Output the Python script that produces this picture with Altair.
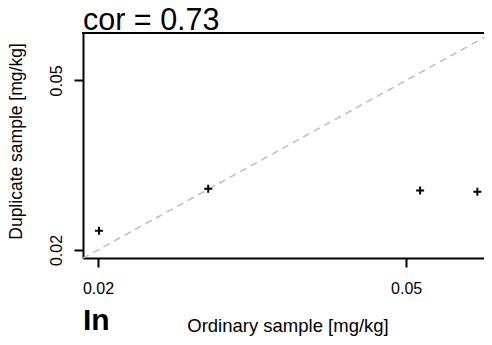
import altair as alt
import pandas as pd

# Data (log-log scatter)
ordinary = [0.02006, 0.02776, 0.05213, 0.0618]
duplicate = [0.0222, 0.02784, 0.02758, 0.0274]
x_range = [0.01913, 0.06303]
y_range = [0.01915, 0.0646]
diag_values = [0.0191, 0.0700]
tick_values = [0.02, 0.05]
title_text = "cor = 0.73"
element_label = "In"

pts = pd.DataFrame({"ordinary": ordinary, "duplicate": duplicate})
diag = pd.DataFrame({"ordinary": diag_values, "duplicate": diag_values})
lab = pd.DataFrame({"label": [element_label]})
ttl = pd.DataFrame({"label": [title_text]})

FONT = "Liberation Sans"
W, H = 401, 225

xscale = alt.Scale(type="log", domain=x_range, nice=False, zero=False)
yscale = alt.Scale(type="log", domain=y_range, nice=False, zero=False)

xaxis = alt.Axis(
    values=tick_values, format=".2f", title="Ordinary sample [mg/kg]",
    grid=False, domainColor="black", domainWidth=2, tickColor="black",
    tickWidth=2, tickSize=9, labelFont=FONT, labelFontSize=16, labelColor="black",
    labelBaseline="alphabetic", labelPadding=26, labelFlush=False,
    titleFont=FONT, titleFontSize=18.5, titleFontWeight="normal", titleColor="black",
    titleBaseline="alphabetic", titleAlign="center", titleX=(492 - 83) / 2, titleY=73,
)
yaxis = alt.Axis(
    values=tick_values, format=".2f", title="Duplicate sample [mg/kg]",
    grid=False, domainColor="black", domainWidth=2, tickColor="black",
    tickWidth=2, tickSize=9, labelFont=FONT, labelFontSize=16, labelColor="black",
    labelAngle=270, labelAlign="center", labelBaseline="alphabetic",
    labelPadding=13, labelFlush=False,
    titleFont=FONT, titleFontSize=17.5, titleFontWeight="normal", titleColor="black",
    titleAngle=270, titleBaseline="alphabetic", titleAlign="center",
    titleX=-61.5, titleY=108,
)

points = alt.Chart(pts).mark_point(
    shape="M -1 0 L 1 0 M 0 -1 L 0 1", filled=False, stroke="black",
    strokeWidth=2, size=64, opacity=1, clip=True,
).encode(
    x=alt.X("ordinary:Q", scale=xscale, axis=xaxis),
    y=alt.Y("duplicate:Q", scale=yscale, axis=yaxis),
)

line = alt.Chart(diag).mark_line(
    color="#bebebe", strokeWidth=1.5, strokeDash=[7, 5], clip=True,
).encode(
    x=alt.X("ordinary:Q", scale=xscale),
    y=alt.Y("duplicate:Q", scale=yscale),
)

top_rule = alt.Chart(lab).mark_rule(color="black", strokeWidth=2).encode(
    x=alt.value(-1), x2=alt.value(W + 2), y=alt.value(0),
)

in_text = alt.Chart(lab).mark_text(
    font=FONT, fontSize=30, fontWeight="bold", align="left",
    baseline="alphabetic", color="black",
).encode(text="label:N", x=alt.value(0), y=alt.value(297))

title_mark = alt.Chart(ttl).mark_text(
    font=FONT, fontSize=30.5, fontWeight="normal", align="left",
    baseline="alphabetic", color="black",
).encode(text="label:N", x=alt.value(0), y=alt.value(-3))

chart = alt.layer(line, points, top_rule, in_text, title_mark).properties(
    width=W, height=H,
    autosize=alt.AutoSizeParams(type="none"),
    padding={"left": 75, "top": 25, "right": 0, "bottom": 80},
).configure_view(stroke=None).configure(background="white")

chart.save("out.html", embed_options={"renderer": "svg", "actions": False})
